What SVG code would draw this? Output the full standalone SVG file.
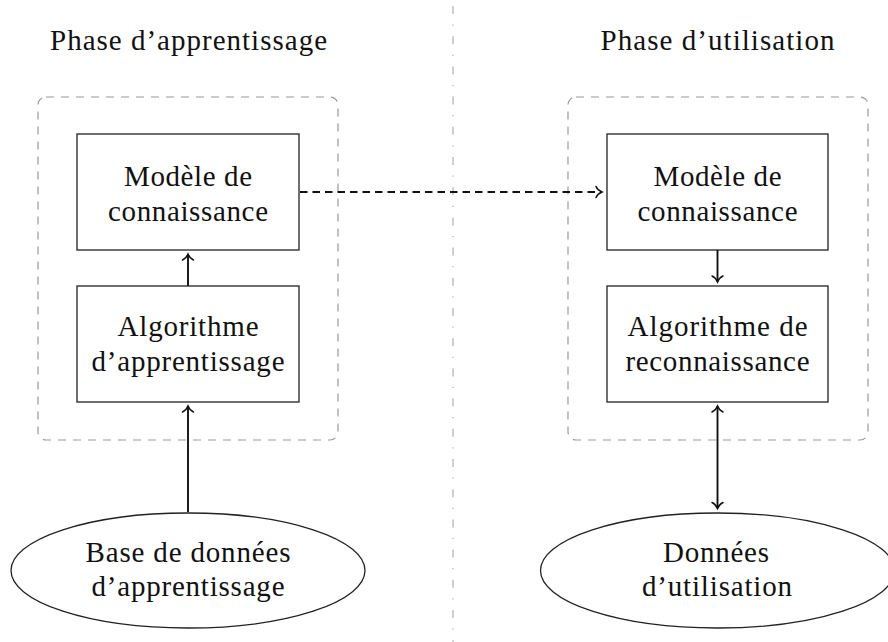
<svg xmlns="http://www.w3.org/2000/svg" width="888" height="642" viewBox="0 0 888 642">
<style>
  text { font-family: "Liberation Serif", "Times New Roman", serif; font-size: 29px; fill: #111; text-anchor: middle; }
  .box { fill: #fff; stroke: #222; stroke-width: 1.3; }
  .group { fill: none; stroke: #999; stroke-width: 1.2; stroke-dasharray: 8 7; }
  .sep { stroke: #b0b0b0; stroke-width: 1.2; stroke-dasharray: 8 10.5 1.2 10.5; }
  .edge { fill: none; stroke: #111; stroke-width: 1.9; }
  .dashed { stroke-dasharray: 7.5 5; }
</style>
<defs>
  <marker id="tip" markerUnits="userSpaceOnUse" viewBox="-8 -7 10 14" refX="0" refY="0" markerWidth="10" markerHeight="14" orient="auto-start-reverse">
    <path d="M-6,-5.5 C-4.5,-2 -1.5,-0.6 0,0 C-1.5,0.6 -4.5,2 -6,5.5" fill="none" stroke="#111" stroke-width="1.5" stroke-linecap="round"/>
  </marker>
</defs>

<line class="sep" x1="453" y1="6" x2="453" y2="642"/>

<g id="title-apprentissage"><text x="188.5" y="50" textLength="277">Phase d’apprentissage</text></g>
<g id="title-utilisation"><text x="717.5" y="50" textLength="234">Phase d’utilisation</text></g>

<g id="group-apprentissage"><rect class="group" x="38" y="97" width="300" height="343" rx="8"/></g>
<g id="group-utilisation"><rect class="group" x="568" y="97" width="300" height="343" rx="8"/></g>

<g id="modele-left">
  <rect class="box" x="77" y="134" width="222" height="116"/>
  <text x="188" y="186" textLength="128">Modèle de</text>
  <text x="188" y="221" textLength="160">connaissance</text>
</g>
<g id="algo-apprentissage">
  <rect class="box" x="77" y="286" width="222" height="116"/>
  <text x="188" y="336" textLength="141">Algorithme</text>
  <text x="188" y="371" textLength="193">d’apprentissage</text>
</g>
<g id="modele-right">
  <rect class="box" x="607" y="134" width="221" height="116"/>
  <text x="717.5" y="186" textLength="128">Modèle de</text>
  <text x="717.5" y="221" textLength="160">connaissance</text>
</g>
<g id="algo-reconnaissance">
  <rect class="box" x="607" y="286" width="221" height="116"/>
  <text x="717.5" y="336" textLength="180">Algorithme de</text>
  <text x="717.5" y="371" textLength="184">reconnaissance</text>
</g>
<g id="base-apprentissage">
  <ellipse class="box" cx="188" cy="570.5" rx="177" ry="57.5"/>
  <text x="188" y="562" textLength="205">Base de données</text>
  <text x="188" y="596" textLength="193">d’apprentissage</text>
</g>
<g id="donnees-utilisation">
  <ellipse class="box" cx="717.5" cy="570.5" rx="177" ry="57.5"/>
  <text x="716" y="562" textLength="106">Données</text>
  <text x="717" y="596" textLength="150">d’utilisation</text>
</g>

<g id="connectors">
  <path class="edge" d="M188,286 L188,254" marker-end="url(#tip)"/>
  <path class="edge" d="M188,512 L188,406" marker-end="url(#tip)"/>
  <path class="edge dashed" d="M300,192 L602,192" marker-end="url(#tip)"/>
  <path class="edge" d="M717.5,250 L717.5,282" marker-end="url(#tip)"/>
  <path class="edge" d="M717.5,406 L717.5,508.5" marker-start="url(#tip)" marker-end="url(#tip)"/>
</g>
</svg>
